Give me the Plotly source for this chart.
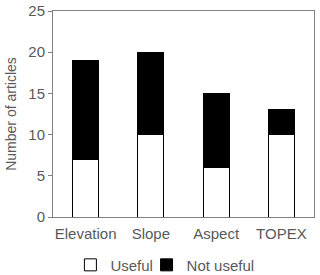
import plotly.graph_objects as go

categories = ["Elevation", "Slope", "Aspect", "TOPEX"]
useful = [7, 10, 6, 10]
not_useful = [12, 10, 9, 3]

gray = "#595959"
font = "Liberation Sans, Arial, sans-serif"

fig = go.Figure()
fig.add_trace(go.Bar(x=categories, y=useful, name="Useful", legend="legend",
                     marker=dict(color="white", line=dict(color="black", width=1))))
fig.add_trace(go.Bar(x=categories, y=not_useful, name="Not useful", legend="legend2",
                     marker=dict(color="black", line=dict(color="black", width=1))))

legend_common = dict(orientation="h", xref="container", yref="container",
                     xanchor="left", y=0.036, yanchor="middle",
                     bgcolor="rgba(0,0,0,0)",
                     font=dict(size=15, color=gray), itemwidth=30)

fig.update_layout(
    width=320, height=275,
    barmode="stack", bargap=0.6,
    margin=dict(l=53, r=6, t=11, b=58, autoexpand=False),
    paper_bgcolor="white", plot_bgcolor="white",
    font=dict(family=font, size=15, color=gray),
    showlegend=True,
    legend=dict(x=0.22, **legend_common),
    legend2=dict(x=0.458, **legend_common),
    xaxis=dict(showline=True, linecolor="#808080", linewidth=1, mirror=True,
               ticks="outside", ticklen=3, tickcolor="rgba(0,0,0,0)",
               automargin=False, tickfont=dict(size=15, color=gray)),
    yaxis=dict(range=[0, 25], dtick=5, showline=True, linecolor="#808080", linewidth=1,
               mirror=True, ticks="outside", ticklen=4, tickcolor="#808080",
               showgrid=False, zeroline=False, automargin=False,
               tickfont=dict(size=15, color=gray),
               title=dict(text="Number of articles", font=dict(size=14, color=gray), standoff=8)),
)

fig.write_html("out.html", config={"displayModeBar": False},
               post_script="document.body.style.margin='0';")
